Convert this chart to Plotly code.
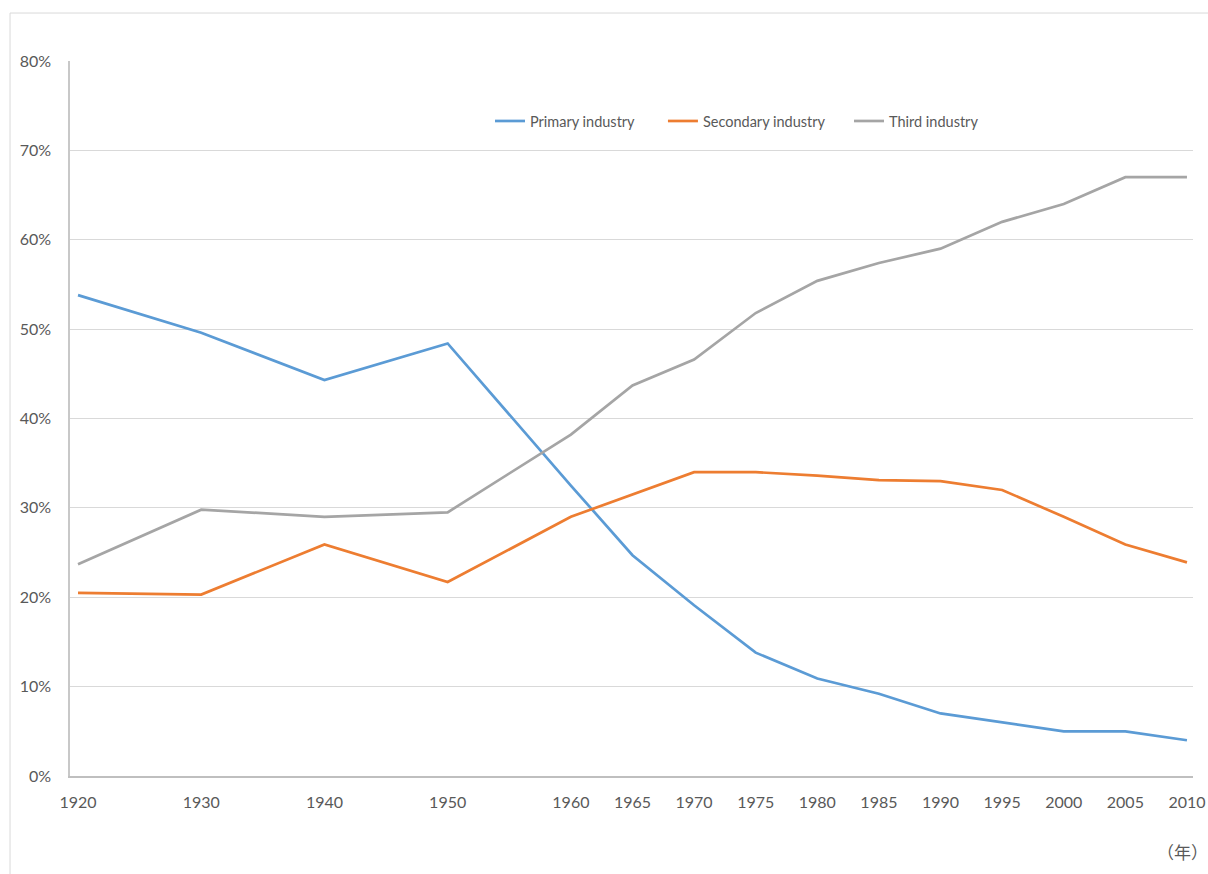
import plotly.graph_objects as go

years = [1920, 1930, 1940, 1950, 1960, 1965, 1970, 1975, 1980, 1985, 1990, 1995, 2000, 2005, 2010]
primary = [53.8, 49.6, 44.3, 48.4, 32.5, 24.7, 19.1, 13.8, 10.9, 9.2, 7.0, 6.0, 5.0, 5.0, 4.0]
secondary = [20.5, 20.3, 25.9, 21.7, 29.0, 31.5, 34.0, 34.0, 33.6, 33.1, 33.0, 32.0, 29.0, 25.9, 23.9]
third = [23.7, 29.8, 29.0, 29.5, 38.2, 43.7, 46.6, 51.8, 55.4, 57.4, 59.0, 62.0, 64.0, 67.0, 67.0]
y_ticks = [0, 10, 20, 30, 40, 50, 60, 70, 80]
y_tick_labels = [f"{v}%" for v in y_ticks]
series_names = ["Primary industry", "Secondary industry", "Third industry"]
colors = ["#5b9bd5", "#ed7d31", "#a5a5a5"]
legend_ids = ["legend", "legend2", "legend3"]
legend_x = [0.374, 0.528, 0.6937]

font_family = "Lato, 'Open Sans', sans-serif"
fig = go.Figure()
for name, vals, col, lid in zip(series_names, [primary, secondary, third], colors, legend_ids):
    fig.add_trace(go.Scatter(x=years, y=vals, mode="lines", name=name, legend=lid,
                             line=dict(color=col, width=2.7)))

legend_common = dict(y=0.916, xanchor="left", yanchor="middle", orientation="h",
                     font=dict(family=font_family, size=14.5, color="#595959"),
                     bgcolor="rgba(0,0,0,0)", borderwidth=0)

fig.update_layout(
    width=1208, height=874,
    paper_bgcolor="white", plot_bgcolor="white",
    margin=dict(l=70, r=15, t=61, b=98, autoexpand=False),
    font=dict(family=font_family, size=16, color="#595959"),
    showlegend=True,
    legend=dict(x=legend_x[0], **legend_common),
    legend2=dict(x=legend_x[1], **legend_common),
    legend3=dict(x=legend_x[2], **legend_common),
    xaxis=dict(range=[1919.35, 2010.49], tickmode="array", tickvals=years,
               ticktext=[str(y) for y in years], showgrid=False, zeroline=False,
               showline=True, linecolor="#bfbfbf", linewidth=1.5, ticks="",
               automargin=False, ticklabelstandoff=11,
               tickfont=dict(size=16, color="#595959")),
    yaxis=dict(range=[0, 80], tickmode="array", tickvals=y_ticks, ticktext=y_tick_labels,
               showgrid=True, gridcolor="#d9d9d9", gridwidth=1, zeroline=False,
               showline=True, linecolor="#c8c8c8", linewidth=1.5, ticks="",
               automargin=False, ticklabelstandoff=14,
               tickfont=dict(size=16, color="#595959")),
    shapes=[dict(type="rect", xref="paper", yref="paper", x0=-0.0534, x1=1.03,
                 y0=-0.145, y1=1.0671, line=dict(color="#d9d9d9", width=1),
                 fillcolor="rgba(0,0,0,0)", layer="below")],
    annotations=[dict(text="（年）", xref="paper", yref="paper", x=1.0147, y=-0.105,
                      xanchor="right", yanchor="middle", showarrow=False,
                      font=dict(family="Noto Sans CJK JP", size=17, color="#595959"))],
)

fig.write_html("out.html", config={"displayModeBar": False},
               post_script="document.body.style.margin='0';document.body.style.overflow='hidden';")
